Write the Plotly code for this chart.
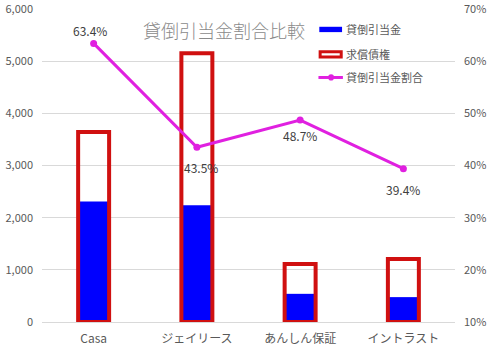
import plotly.graph_objects as go

categories = ["Casa", "ジェイリース", "あんしん保証", "イントラスト"]
allowance = [2310, 2240, 540, 477]          # 貸倒引当金
claims = [3640, 5150, 1110, 1210]           # 求償債権
ratio = [63.4, 43.5, 48.7, 39.4]            # 貸倒引当金割合 (%)
ratio_labels = ["63.4%", "43.5%", "48.7%", "39.4%"]
label_shift = [13, -20, -15, -21]
legend_names = ["貸倒引当金", "求償債権", "貸倒引当金割合"]

font_family = "Noto Sans CJK JP, Noto Sans, sans-serif"
gray = "#595959"
blue = "#0000FF"
red = "#D01010"
magenta = "#E020E0"

fig = go.Figure()
fig.add_trace(go.Bar(
    x=categories, y=allowance, name=legend_names[0],
    marker=dict(color=blue, line=dict(width=0)),
    width=0.3, showlegend=False,
))
fig.add_trace(go.Bar(
    x=categories, y=claims, name=legend_names[1],
    marker=dict(color="rgba(255,255,255,0)", line=dict(color=red, width=4)),
    width=0.3, showlegend=False,
))
fig.add_trace(go.Scatter(
    x=categories, y=ratio, name=legend_names[2], yaxis="y2",
    mode="lines+markers",
    line=dict(color=magenta, width=3),
    marker=dict(color=magenta, size=7),
    showlegend=False,
))

annotations = [dict(
    text="貸倒引当金割合比較", xref="paper", yref="paper",
    x=0.44, y=0.933, xanchor="center", yanchor="middle",
    showarrow=False, font=dict(size=18, color="#8a8a8a", family=font_family, weight=300),
)]
for c, r, t, s in zip(categories, ratio, ratio_labels, label_shift):
    annotations.append(dict(
        x=c, y=r, xref="x", yref="y2", text=t, showarrow=False,
        yshift=s, xshift=-4 if s > 0 else 4 if c == categories[1] else 0,
        font=dict(size=12, color="#404040", family=font_family),
    ))

# manual legend (paper pixel coordinates converted to fractions)
W, H = 490, 352
def px(x):
    return x / W
def py(y):
    return 1 - y / H

shapes = [
    dict(type="rect", xref="paper", yref="paper", layer="above",
         x0=px(329), x1=px(356), y0=py(26), y1=py(20),
         fillcolor=blue, line=dict(width=0)),
    dict(type="rect", xref="paper", yref="paper", layer="above",
         x0=px(330), x1=px(355), y0=py(54), y1=py(48),
         fillcolor="white", line=dict(color=red, width=3)),
    dict(type="line", xref="paper", yref="paper", layer="above",
         x0=px(328), x1=px(357), y0=py(77), y1=py(77),
         line=dict(color=magenta, width=3)),
    dict(type="circle", xref="paper", yref="paper", layer="above",
         x0=px(339.5), x1=px(346.5), y0=py(80.5), y1=py(73.5),
         fillcolor=magenta, line=dict(width=0)),
]
for name, yy in zip(legend_names, [23, 51, 77]):
    annotations.append(dict(
        text=name, xref="paper", yref="paper", x=px(358), y=py(yy),
        xanchor="left", yanchor="middle", showarrow=False,
        font=dict(size=11, color=gray, family=font_family),
    ))

fig.update_layout(
    width=W, height=H,
    margin=dict(l=42, r=35, t=9, b=30, autoexpand=False),
    paper_bgcolor="white", plot_bgcolor="white",
    barmode="overlay",
    font=dict(family=font_family, color=gray, size=11),
    showlegend=False,
    xaxis=dict(
        showgrid=False, showline=False, zeroline=False, automargin=False,
        tickfont=dict(size=12, color=gray), ticks="", ticklabelstandoff=8,
    ),
    yaxis=dict(
        range=[0, 6000], dtick=1000, tickformat=",d", automargin=False,
        showgrid=True, gridcolor="#D9D9D9", gridwidth=1,
        zeroline=True, zerolinecolor="#D9D9D9", zerolinewidth=1,
        showline=False, ticks="", ticklabelstandoff=8,
        ticklabeloverflow="allow",
        tickfont=dict(size=11, color=gray),
    ),
    yaxis2=dict(
        range=[10, 70], dtick=10, ticksuffix="%", automargin=False,
        overlaying="y", side="right",
        showgrid=False, zeroline=False, showline=False, ticks="",
        ticklabelstandoff=8, ticklabeloverflow="allow",
        tickfont=dict(size=11, color=gray),
    ),
    annotations=annotations,
    shapes=shapes,
)

fig.write_html("out.html")
